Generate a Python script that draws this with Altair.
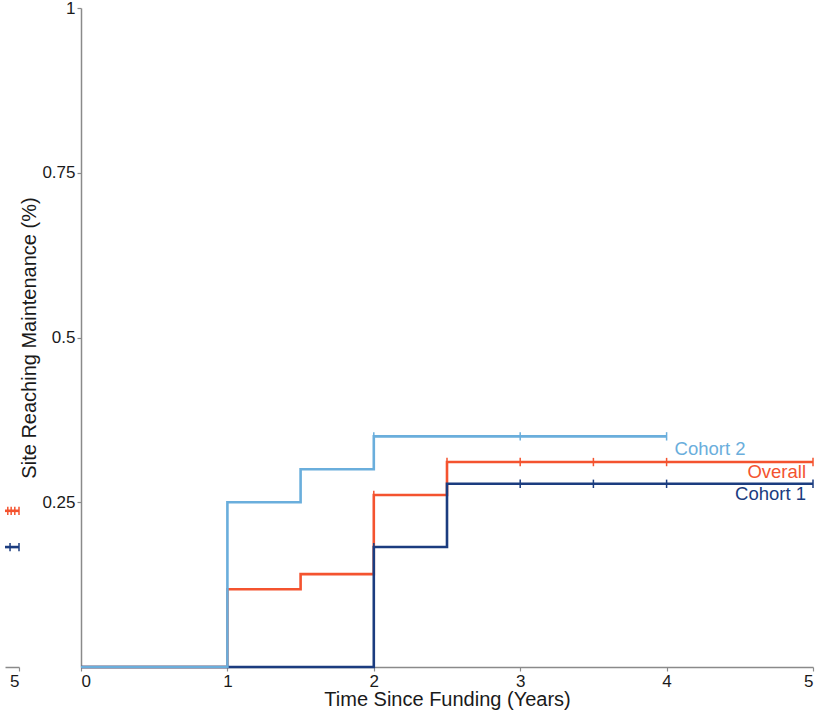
import altair as alt
import pandas as pd

# Kaplan-Meier style cumulative proportion of sites reaching maintenance
overall_t = [0, 1, 1.5, 2, 2.5, 5]
overall_p = [0, 0.118, 0.141, 0.261, 0.311, 0.311]
overall_censor = [2, 2.5, 3, 3.5, 4, 5]

cohort1_t = [0, 2, 2.5, 5]
cohort1_p = [0, 0.182, 0.278, 0.278]
cohort1_censor = [2, 3, 3.5, 4, 5]

cohort2_t = [0, 1, 1.5, 2, 4]
cohort2_p = [0, 0.25, 0.30, 0.35, 0.35]
cohort2_censor = [2, 3, 4]

# right-hand tail of the neighbouring panel
tail_overall_t = [4.5, 5]
tail_overall_p = [0.237, 0.237]
tail_overall_censor = [4.6, 4.72, 4.85, 5]
tail_cohort1_t = [4.5, 5]
tail_cohort1_p = [0.182, 0.182]
tail_cohort1_censor = [4.68, 5]

series_names = ["Overall", "Cohort 1", "Cohort 2"]
series_colors = ["#F4532F", "#1B3C7F", "#6AAEDC"]
draw_order = [0, 1, 2]

y_ticks = [0.25, 0.5, 0.75, 1]
x_ticks = [0, 1, 2, 3, 4, 5]

FONT = "Liberation Sans"


def step_value(ts, ps, t):
    val = ps[0]
    for ti, pi in zip(ts, ps):
        if ti <= t:
            val = pi
    return val


def build(series):
    lines, marks = [], []
    for i, (name, ts, ps, cs) in enumerate(series):
        for t, p in zip(ts, ps):
            lines.append({"series": name, "t": t, "p": p, "order": i})
        for c in cs:
            marks.append({"series": name, "t": c, "p": step_value(ts, ps, c), "order": i})
    return pd.DataFrame(lines), pd.DataFrame(marks)


main_lines, main_marks = build([
    ("Overall", overall_t, overall_p, overall_censor),
    ("Cohort 1", cohort1_t, cohort1_p, cohort1_censor),
    ("Cohort 2", cohort2_t, cohort2_p, cohort2_censor),
])

tail_lines, tail_marks = build([
    ("Overall", tail_overall_t, tail_overall_p, tail_overall_censor),
    ("Cohort 1", tail_cohort1_t, tail_cohort1_p, tail_cohort1_censor),
])

labels = pd.DataFrame({
    "series": ["Cohort 2", "Overall", "Cohort 1"],
    "t": [4, 5, 5],
    "p": [0.35, 0.311, 0.278],
})

color = alt.Color("series:N", scale=alt.Scale(domain=series_names, range=series_colors), legend=None)
y_scale = alt.Scale(domain=[0, 1], nice=False, zero=True)

main_x = alt.X(
    "t:Q",
    scale=alt.Scale(domain=[0, 5], nice=False),
    axis=alt.Axis(values=x_ticks, format="d", title="Time Since Funding (Years)"),
)
main_y = alt.Y(
    "p:Q",
    scale=y_scale,
    axis=alt.Axis(values=y_ticks, format=".2~f", title="Site Reaching Maintenance (%)"),
)

main_layers = []
for i in draw_order:
    name = series_names[i]
    main_layers.append(
        alt.Chart(main_lines[main_lines.series == name])
        .mark_line(interpolate="step-after", strokeWidth=2.6)
        .encode(x=main_x, y=main_y, color=color)
    )
main_layers.append(
    alt.Chart(main_marks)
    .mark_point(shape="M0,-1L0,1", size=70, filled=False, strokeWidth=1.5, opacity=1)
    .encode(x=main_x, y=main_y, color=color)
)

text_base = alt.Chart(labels).encode(x=main_x, y=main_y, color=color, text="series:N")
main_layers.append(
    text_base.transform_filter(alt.datum.series == "Cohort 2")
    .mark_text(align="left", baseline="middle", dx=8, dy=13, fontSize=18.5, font=FONT)
)
main_layers.append(
    text_base.transform_filter(alt.datum.series != "Cohort 2")
    .mark_text(align="right", baseline="middle", dx=-7, dy=10, fontSize=18.5, font=FONT)
)

main = alt.layer(*main_layers).properties(width=732, height=659)

tail_x = alt.X(
    "t:Q",
    scale=alt.Scale(domain=[4.5, 5], nice=False),
    axis=alt.Axis(values=[5], format="d", title=None),
)
tail_y = alt.Y("p:Q", scale=y_scale, axis=None)

tail = alt.layer(
    alt.Chart(tail_lines[tail_lines.series == "Overall"])
    .mark_line(interpolate="step-after", strokeWidth=2.6)
    .encode(x=tail_x, y=tail_y, color=color),
    alt.Chart(tail_lines[tail_lines.series == "Cohort 1"])
    .mark_line(interpolate="step-after", strokeWidth=2.6)
    .encode(x=tail_x, y=tail_y, color=color),
    alt.Chart(tail_marks)
    .mark_point(shape="M0,-1L0,1", size=70, filled=False, strokeWidth=1.5, opacity=1)
    .encode(x=tail_x, y=tail_y, color=color),
).properties(width=14, height=659)

chart = (
    alt.hconcat(tail, main, spacing=62, bounds="flush")
    .resolve_scale(x="independent")
    .properties(padding={"left": -1, "top": -1, "right": 5, "bottom": 5})
    .configure_view(stroke=None)
    .configure_axis(
        grid=False,
        domainColor="#8a8a8a",
        domainWidth=1.5,
        tickColor="#8a8a8a",
        tickWidth=1.2,
        tickSize=4,
        labelFont=FONT,
        labelFontSize=17,
        labelColor="#1a1a1a",
        labelPadding=2,
        titleFont=FONT,
        titleFontSize=20,
        titleFontWeight="normal",
        titleColor="#1a1a1a",
    )
    .configure_axisX(labelPadding=2, titlePadding=0)
    .configure_axisY(titlePadding=2)
)

chart.save("out.html", embed_options={"renderer": "svg", "actions": False})
